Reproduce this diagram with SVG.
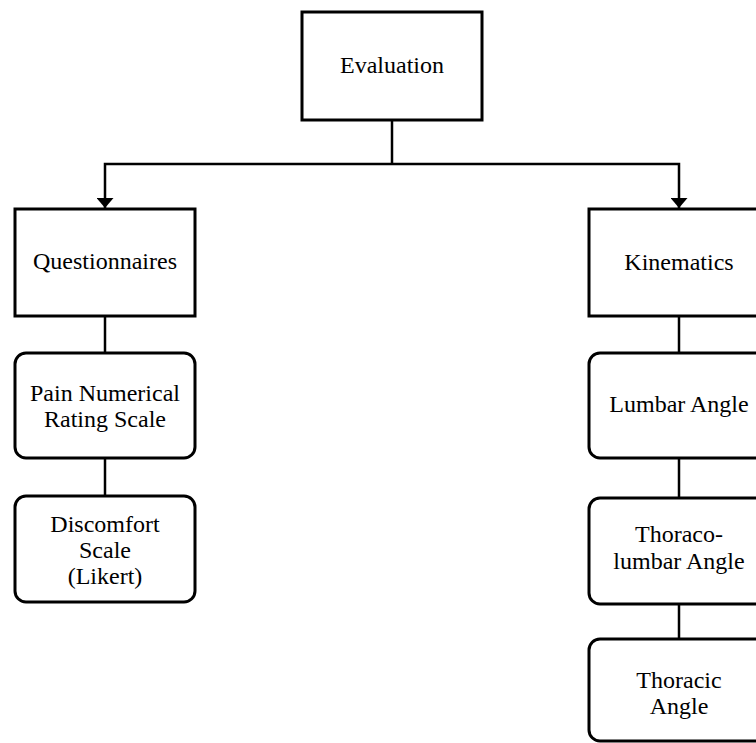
<svg xmlns="http://www.w3.org/2000/svg" width="756" height="743" viewBox="0 0 756 743">
<style>
.box{fill:#fff;stroke:#000;stroke-width:3}
.lbl{font-family:"Liberation Serif","Times New Roman",serif;font-size:24px;fill:#000;text-anchor:middle}
.conn line,.conn polyline{stroke:#000;stroke-width:2.5;fill:none}
</style>
<defs>
<marker id="arr" viewBox="0 0 10 17" refX="10" refY="8.5" markerWidth="10" markerHeight="17" markerUnits="userSpaceOnUse" orient="auto-start-reverse">
<path d="M0,0 L10,8.5 L0,17 Z" fill="#000"/>
</marker>
</defs>
<rect width="756" height="743" fill="#fff"/>
<g id="connectors" class="conn">
<line x1="392" y1="120" x2="392" y2="164"/>
<polyline points="392,164 105,164 105,208" marker-end="url(#arr)"/>
<polyline points="392,164 679,164 679,208" marker-end="url(#arr)"/>
<line x1="105" y1="316" x2="105" y2="353"/>
<line x1="105" y1="458" x2="105" y2="496"/>
<line x1="679" y1="316" x2="679" y2="353"/>
<line x1="679" y1="458" x2="679" y2="498"/>
<line x1="679" y1="604" x2="679" y2="639"/>
</g>
<g id="evaluation">
<rect class="box" x="302" y="12" width="180" height="108"/>
<text class="lbl" x="392" y="73">Evaluation</text>
</g>
<g id="questionnaires">
<rect class="box" x="15" y="209" width="180" height="107"/>
<text class="lbl" x="105" y="269">Questionnaires</text>
</g>
<g id="kinematics">
<rect class="box" x="589" y="209" width="180" height="107"/>
<text class="lbl" x="679" y="270">Kinematics</text>
</g>
<g id="pain">
<rect class="box" x="15" y="353" width="180" height="105" rx="11"/>
<text class="lbl" x="105" y="401">Pain Numerical</text>
<text class="lbl" x="105" y="427">Rating Scale</text>
</g>
<g id="discomfort">
<rect class="box" x="15" y="496" width="180" height="106" rx="11"/>
<text class="lbl" x="105" y="532">Discomfort</text>
<text class="lbl" x="105" y="558">Scale</text>
<text class="lbl" x="105" y="584">(Likert)</text>
</g>
<g id="lumbar">
<rect class="box" x="589" y="353" width="180" height="105" rx="11"/>
<text class="lbl" x="679" y="412">Lumbar Angle</text>
</g>
<g id="thoracolumbar">
<rect class="box" x="589" y="498" width="180" height="106" rx="11"/>
<text class="lbl" x="679" y="542">Thoraco-</text>
<text class="lbl" x="679" y="569">lumbar Angle</text>
</g>
<g id="thoracic">
<rect class="box" x="589" y="639" width="180" height="102" rx="11"/>
<text class="lbl" x="679" y="688">Thoracic</text>
<text class="lbl" x="679" y="714">Angle</text>
</g>
</svg>
